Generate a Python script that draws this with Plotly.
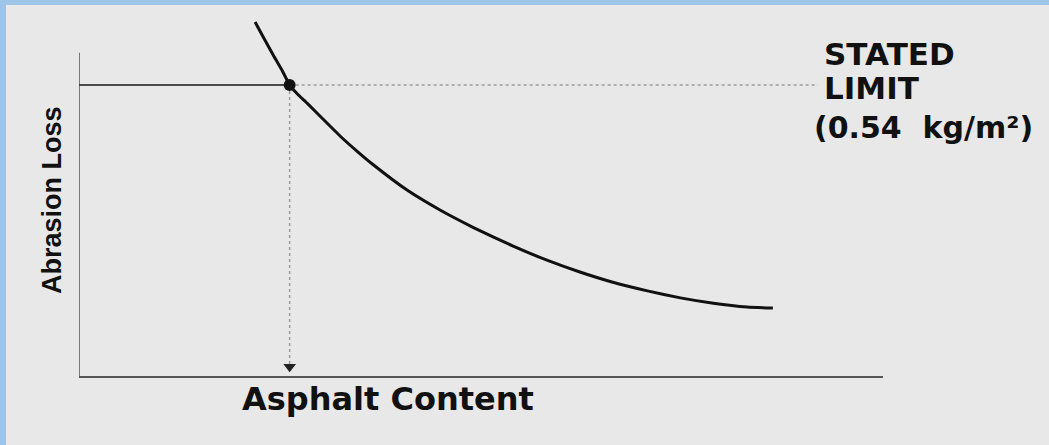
import plotly.graph_objects as go

# ---- data ----
asphalt_content = [2.19, 2.30, 2.41, 2.53, 2.62, 2.72, 2.84, 3.04, 3.25, 3.46, 3.66, 4.08,
                   4.49, 4.90, 5.40, 5.82, 6.23, 6.64, 7.07, 7.48, 7.89, 8.31, 8.63]
abrasion_loss = [0.657, 0.627, 0.597, 0.566, 0.540, 0.523, 0.506, 0.476, 0.445, 0.417, 0.392,
                 0.345, 0.308, 0.276, 0.241, 0.215, 0.193, 0.174, 0.158, 0.145, 0.135, 0.128,
                 0.126]

stated_limit = 0.54
optimum_content = 2.62
limit_line_end = 9.19
arrow_level = 0.017
x_axis_range = [0, 10]
y_axis_range = [0, 0.67]
y_axis_top = 0.60

limit_label = ["STATED", "LIMIT", "(0.54\u00a0\u00a0kg/m²)"]
x_title = "Asphalt Content"
y_title = "Abrasion Loss"

W, H = 1049, 445
ML, MR, MT, MB = 79, 166, 15, 69
PW, PH = W - ML - MR, H - MT - MB

BG = "#e8e8e8"
BLUE = "#9ec4e8"
label_font = dict(family="DejaVu Sans", size=31, color="#111111", weight="bold")

fig = go.Figure()

# y-axis line
fig.add_trace(go.Scatter(x=[x_axis_range[0], x_axis_range[0]], y=[y_axis_range[0], y_axis_top],
                         mode="lines", line=dict(color="#555555", width=1.5),
                         hoverinfo="skip", showlegend=False))
# stated limit: solid part
fig.add_trace(go.Scatter(x=[x_axis_range[0], optimum_content], y=[stated_limit, stated_limit],
                         mode="lines", line=dict(color="#4a4a4a", width=2),
                         hoverinfo="skip", showlegend=False))
# stated limit: dotted part
fig.add_trace(go.Scatter(x=[optimum_content, limit_line_end], y=[stated_limit, stated_limit],
                         mode="lines", line=dict(color="#9a9a9a", width=1.5, dash="dot"),
                         hoverinfo="skip", showlegend=False))
# vertical dotted drop line
fig.add_trace(go.Scatter(x=[optimum_content, optimum_content], y=[stated_limit, arrow_level],
                         mode="lines", line=dict(color="#9a9a9a", width=1.5, dash="dot"),
                         hoverinfo="skip", showlegend=False))
# arrow head
fig.add_trace(go.Scatter(x=[optimum_content], y=[arrow_level], mode="markers",
                         marker=dict(symbol="triangle-down", size=11, color="#222222"),
                         hoverinfo="skip", showlegend=False, cliponaxis=False))
# curve
fig.add_trace(go.Scatter(x=asphalt_content, y=abrasion_loss, mode="lines",
                         line=dict(color="#111111", width=3, shape="spline", smoothing=0.4),
                         showlegend=False))
# intersection point
fig.add_trace(go.Scatter(x=[optimum_content], y=[stated_limit], mode="markers",
                         marker=dict(size=12, color="#111111"),
                         showlegend=False))


def px_x(p):
    return (p - ML) / PW


def px_y(p):
    return (H - MB - p) / PH


annotations = [
    dict(x=9.24, y=0.597, text=limit_label[0], xanchor="left", yanchor="middle"),
    dict(x=9.24, y=0.534, text=limit_label[1], xanchor="left", yanchor="middle"),
    dict(x=9.12, y=0.462, text=limit_label[2], xanchor="left", yanchor="middle",
         font=dict(family="DejaVu Sans", size=30, color="#111111", weight="bold")),
]
for a in annotations:
    a.update(xref="x", yref="y", showarrow=False)
    a.setdefault("font", label_font)
annotations.append(dict(x=px_x(388), y=px_y(399), xref="paper", yref="paper", text=x_title,
                        showarrow=False, xanchor="center", yanchor="middle",
                        font=dict(family="DejaVu Sans", size=32, color="#111111",
                                  weight="bold")))
annotations.append(dict(x=px_x(52), y=px_y(200), xref="paper", yref="paper", text=y_title,
                        textangle=-90, showarrow=False, xanchor="center", yanchor="middle",
                        font=dict(family="Liberation Sans", size=27, color="#111111",
                                  weight="bold")))

# blue frame strips (paper coordinates)
shapes = [
    dict(type="rect", xref="paper", yref="paper", x0=px_x(0), x1=px_x(6), y0=px_y(H), y1=px_y(0),
         fillcolor=BLUE, line=dict(width=0), layer="below"),
    dict(type="rect", xref="paper", yref="paper", x0=px_x(0), x1=px_x(W), y0=px_y(5), y1=px_y(0),
         fillcolor=BLUE, line=dict(width=0), layer="below"),
]

fig.update_layout(
    width=W, height=H,
    margin=dict(l=ML, r=MR, t=MT, b=MB),
    paper_bgcolor=BG, plot_bgcolor=BG,
    annotations=annotations, shapes=shapes,
    xaxis=dict(range=x_axis_range, showgrid=False, zeroline=False, showticklabels=False,
               ticks="", showline=True, linecolor="#555555", linewidth=2),
    yaxis=dict(range=y_axis_range, showgrid=False, zeroline=False, showticklabels=False,
               ticks="", showline=False),
    hovermode=False,
)

fig.write_html("out.html", config={"displayModeBar": False},
               post_script="document.body.style.margin='0';document.body.style.padding='0';")
